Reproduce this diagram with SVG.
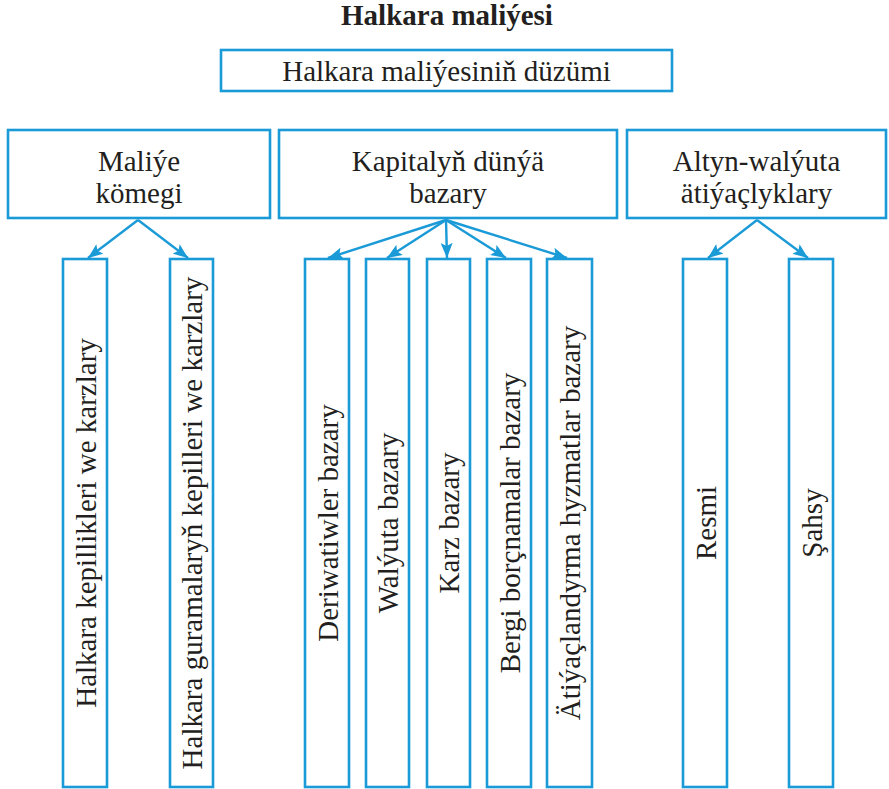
<svg xmlns="http://www.w3.org/2000/svg" width="889" height="789" viewBox="0 0 889 789">
<style>
.box{fill:#fff;stroke:#1a9ad6;stroke-width:2.6}
.t{font-family:"Liberation Serif","Times New Roman",serif;font-size:29px;fill:#231f20;text-anchor:middle}
.b{font-weight:bold}
.con{stroke:#1a9ad6;stroke-width:2.4;fill:none;marker-end:url(#ah)}
</style>
<defs>
<marker id="ah" markerUnits="userSpaceOnUse" markerWidth="16" markerHeight="12" refX="15" refY="6" orient="auto">
<path d="M0,0 L15,6 L0,12 L3,6 z" fill="#1a9ad6"/>
</marker>
</defs>
<text class="t b" x="447" y="25">Halkara maliýesi</text>
<g id="root"><rect class="box" x="221" y="50" width="451" height="41"/><text class="t" x="446.5" y="81">Halkara maliýesiniň düzümi</text></g>
<g id="maliye"><rect class="box" x="8" y="130" width="262" height="88"/><text class="t" x="139" y="171">Maliýe</text><text class="t" x="139" y="203">kömegi</text></g>
<g id="kapital"><rect class="box" x="279" y="130" width="338" height="88"/><text class="t" x="448" y="171">Kapitalyň dünýä</text><text class="t" x="448" y="203">bazary</text></g>
<g id="altyn"><rect class="box" x="627" y="130" width="259" height="88"/><text class="t" x="756.5" y="171">Altyn-walýuta</text><text class="t" x="756.5" y="203">ätiýaçlyklary</text></g>
<g id="leaf1"><rect class="box" x="63" y="259" width="44" height="528"/><text class="t" transform="translate(96,523) rotate(-90)">Halkara kepillikleri we karzlary</text></g>
<g id="leaf2"><rect class="box" x="170" y="259" width="43" height="528"/><text class="t" transform="translate(202,523) rotate(-90)">Halkara guramalaryň kepilleri we karzlary</text></g>
<g id="leaf3"><rect class="box" x="305" y="259" width="44" height="528"/><text class="t" transform="translate(338,523) rotate(-90)">Deriwatiwler bazary</text></g>
<g id="leaf4"><rect class="box" x="366" y="259" width="43" height="528"/><text class="t" transform="translate(398,523) rotate(-90)">Walýuta bazary</text></g>
<g id="leaf5"><rect class="box" x="427" y="259" width="43" height="528"/><text class="t" transform="translate(459,523) rotate(-90)">Karz bazary</text></g>
<g id="leaf6"><rect class="box" x="487" y="259" width="44" height="528"/><text class="t" transform="translate(520,523) rotate(-90)">Bergi borçnamalar bazary</text></g>
<g id="leaf7"><rect class="box" x="547" y="259" width="45" height="528"/><text class="t" transform="translate(580,523) rotate(-90)">Ätiýaçlandyrma hyzmatlar bazary</text></g>
<g id="leaf8"><rect class="box" x="683" y="259" width="44" height="528"/><text class="t" transform="translate(716,523) rotate(-90)">Resmi</text></g>
<g id="leaf9"><rect class="box" x="789" y="259" width="44" height="528"/><text class="t" transform="translate(822,523) rotate(-90)">Şahsy</text></g>
<g id="connectors">
<line class="con" x1="138" y1="220" x2="88" y2="258"/>
<line class="con" x1="138" y1="220" x2="188" y2="258"/>
<line class="con" x1="446" y1="220" x2="328" y2="258"/>
<line class="con" x1="446" y1="220" x2="387" y2="258"/>
<line class="con" x1="446" y1="220" x2="447" y2="258"/>
<line class="con" x1="446" y1="220" x2="506" y2="258"/>
<line class="con" x1="446" y1="220" x2="567" y2="258"/>
<line class="con" x1="757" y1="220" x2="708" y2="258"/>
<line class="con" x1="757" y1="220" x2="808" y2="258"/>
</g>
</svg>
